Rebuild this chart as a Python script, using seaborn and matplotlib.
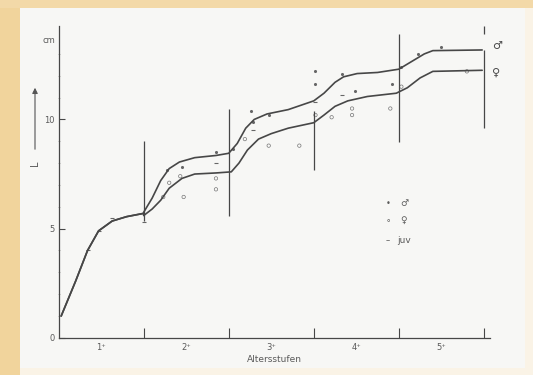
import pandas as pd
import seaborn as sns
import matplotlib.pyplot as plt
from matplotlib.patches import Rectangle

# growth curves (age in years, length)
juv_x = [0.03, 0.2, 0.34, 0.47, 0.63, 0.8, 1.0]
juv_y = [1.0, 2.6, 4.0, 4.9, 5.35, 5.55, 5.7]

male_x = [1.0, 1.1, 1.2, 1.3, 1.42, 1.6, 1.85, 2.0, 2.1, 2.2, 2.3, 2.45, 2.7, 3.0,
          3.12, 3.25, 3.35, 3.51, 3.75, 4.0, 4.15, 4.3, 4.4, 4.98]
male_y = [5.75, 6.4, 7.2, 7.75, 8.05, 8.25, 8.35, 8.45, 8.9, 9.6, 10.0, 10.25, 10.45, 10.85,
          11.2, 11.7, 11.95, 12.1, 12.15, 12.3, 12.65, 13.0, 13.15, 13.18]

female_x = [1.0, 1.1, 1.2, 1.3, 1.45, 1.6, 1.85, 2.03, 2.12, 2.22, 2.35, 2.5, 2.7, 3.0,
            3.12, 3.25, 3.4, 3.63, 3.97, 4.1, 4.25, 4.4, 4.98]
female_y = [5.6, 5.9, 6.3, 6.85, 7.3, 7.5, 7.55, 7.6, 8.0, 8.6, 9.1, 9.35, 9.6, 9.85,
            10.2, 10.6, 10.85, 11.05, 11.2, 11.45, 11.9, 12.2, 12.25]

# single measurements
male_pts_x = [1.27, 1.45, 1.85, 2.05, 2.26, 2.28, 2.47, 3.02, 3.02, 3.33, 3.49, 3.92, 4.03, 4.23, 4.5]
male_pts_y = [7.7, 7.8, 8.5, 8.65, 10.4, 9.9, 10.2, 12.2, 11.6, 12.1, 11.3, 11.6, 12.4, 13.0, 13.3]
female_pts_x = [1.23, 1.30, 1.47, 1.43, 1.85, 1.85, 2.19, 2.47, 2.83, 3.02, 3.21, 3.45, 3.45, 3.9, 4.03, 4.8]
female_pts_y = [6.45, 7.1, 6.45, 7.4, 7.3, 6.8, 9.1, 8.8, 8.8, 10.2, 10.1, 10.5, 10.2, 10.5, 11.5, 12.2]
juv_pts_x = [0.34, 0.47, 0.63, 1.0, 1.85, 2.28, 3.02, 3.33]
juv_pts_y = [4.0, 4.9, 5.5, 5.3, 8.0, 9.5, 10.8, 11.1]

# year boundaries (vertical strokes)
bound_x = [1, 2, 3, 4, 5, 5]
bound_lo = [5.35, 5.56, 7.7, 8.95, 9.6, 13.9]
bound_hi = [9.0, 10.5, 10.4, 13.9, 13.2, 14.3]

age_labels = ['1⁺', '2⁺', '3⁺', '4⁺', '5⁺']
age_pos = [0.5, 1.5, 2.5, 3.5, 4.5]

ink = '#474747'
txt = '#5a5a5a'

curves = pd.concat([
    pd.DataFrame({'x': juv_x + male_x, 'y': juv_y + male_y, 'sex': '♂'}),
    pd.DataFrame({'x': juv_x + female_x, 'y': juv_y + female_y, 'sex': '♀'}),
])

sns.set_style('ticks')
plt.rcParams['font.family'] = ['DejaVu Sans']

fig = plt.figure(figsize=(5.33, 3.75), dpi=100, facecolor='#faf3e6')
# scanned page: orange edge on the left and top, pale paper inside
fig.patches.append(Rectangle((0, 0), 20 / 533, 1, transform=fig.transFigure,
                             facecolor='#f1d49c', edgecolor='none', zorder=-6))
fig.patches.append(Rectangle((0, 1 - 8 / 375), 1, 8 / 375, transform=fig.transFigure,
                             facecolor='#f3d9a8', edgecolor='none', zorder=-6))
fig.patches.append(Rectangle((20 / 533, 1 - 368 / 375), 505 / 533, 360 / 375,
                             transform=fig.transFigure, facecolor='#f7f7f5',
                             edgecolor='none', zorder=-5))
ax = fig.add_axes([0.110, 0.099, 0.809, 0.833])
ax.set_facecolor('none')
ax.set_zorder(2)

sns.lineplot(data=curves, x='x', y='y', hue='sex', palette=[ink, ink], sort=False,
             estimator=None, linewidth=1.2, legend=False, ax=ax)
sns.scatterplot(x=male_pts_x, y=male_pts_y, marker='o', color='#666666', s=5,
                linewidth=0, ax=ax)
sns.scatterplot(x=female_pts_x, y=female_pts_y, marker='o', facecolor='none',
                edgecolor='#777777', s=6, linewidth=0.5, ax=ax)
sns.scatterplot(x=juv_pts_x, y=juv_pts_y, marker='_', color='#666666', s=10,
                linewidth=0.8, ax=ax)
ax.vlines(bound_x, bound_lo, bound_hi, color=ink, linewidth=0.9)

ax.set_xlim(0, 5.07)
ax.set_ylim(0, 14.3)
sns.despine(ax=ax)
for s in ['left', 'bottom']:
    ax.spines[s].set_color(ink)
    ax.spines[s].set_linewidth(0.9)

ax.set_xticks([1, 2, 3, 4, 5])
ax.set_xticklabels([])
ax.set_xticks(age_pos, minor=True)
ax.set_xticklabels(age_labels, minor=True, fontsize=6, color=txt)
ax.tick_params(axis='x', which='major', direction='in', length=7, color=ink, width=0.8)
ax.tick_params(axis='x', which='minor', length=0, pad=4)

ax.set_yticks([0, 5, 10])
ax.set_yticklabels(['0', '5', '10'], fontsize=6, color=txt)
ax.set_yticks(range(1, 14), minor=True)
ax.tick_params(axis='y', which='major', direction='in', length=4, color=ink, width=0.8, pad=3)
ax.tick_params(axis='y', which='minor', direction='inout', length=2, color='#999999', width=0.5)
ax.text(-0.04, 13.6, 'cm', fontsize=6, color=txt, ha='right', va='center')

ax.set_xlabel('Altersstufen', fontsize=6.5, color=txt, labelpad=2)
ax.set_ylabel('')
# y label: letter with a long upward arrow above it
fig.text(35 / 533, 1 - 163 / 375, 'L', rotation=90, fontsize=7, color=txt,
         ha='center', va='center')
ax.annotate('', xy=(35 / 533, 1 - 85 / 375), xytext=(35 / 533, 1 - 152 / 375),
            xycoords='figure fraction', textcoords='figure fraction',
            arrowprops=dict(arrowstyle='-|>', color='#555555', lw=0.8,
                            mutation_scale=8))

# curve labels
ax.text(5.1, 13.35, '♂', fontsize=8, color=ink, va='center')
ax.text(5.1, 12.15, '♀', fontsize=8, color=ink, va='center')

# key
ax.text(3.87, 6.15, '•', fontsize=6, color=txt, ha='center', va='center')
ax.text(4.02, 6.15, '♂', fontsize=6.5, color=txt, va='center')
ax.text(3.87, 5.37, '∘', fontsize=6, color=txt, ha='center', va='center')
ax.text(4.02, 5.37, '♀', fontsize=6.5, color=txt, va='center')
ax.text(3.87, 4.45, '–', fontsize=6, color=txt, ha='center', va='center')
ax.text(3.98, 4.45, 'juv', fontsize=6.5, color=txt, va='center')

fig.savefig('out.png', dpi=100, facecolor=fig.get_facecolor())
